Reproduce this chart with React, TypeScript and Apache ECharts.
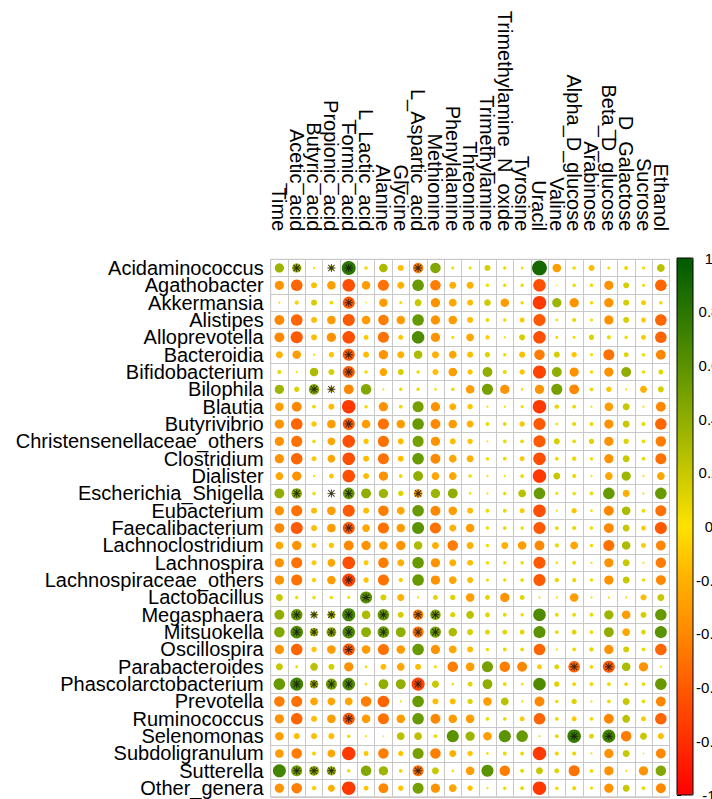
import React, { useEffect, useRef } from "react";
import * as echarts from "echarts";

const metabolites = [
  "Time", "Acetic_acid", "Butyric_acid", "Propionic_acid", "Formic_acid", "L_Lactic_acid",
  "Alanine", "Glycine", "L_Aspartic_acid", "Methionine", "Phenylalanine", "Threonine",
  "Trimethylamine", "Trimethylamine_N_oxide", "Tyrosine", "Uracil", "Valine",
  "Alpha_D_glucose", "Arabinose", "Beta_D_glucose", "D_Galactose", "Sucrose", "Ethanol",
];

const genera = [
  "Acidaminococcus", "Agathobacter", "Akkermansia", "Alistipes", "Alloprevotella", "Bacteroidia",
  "Bifidobacterium", "Bilophila", "Blautia", "Butyrivibrio", "Christensenellaceae_others",
  "Clostridium", "Dialister", "Escherichia_Shigella", "Eubacterium", "Faecalibacterium",
  "Lachnoclostridium", "Lachnospira", "Lachnospiraceae_others", "Lactobacillus", "Megasphaera",
  "Mitsuokella", "Oscillospira", "Parabacteroides", "Phascolarctobacterium", "Prevotella",
  "Ruminococcus", "Selenomonas", "Subdoligranulum", "Sutterella", "Other_genera",
];

// correlation coefficients: one row per genus, one column per metabolite
const corr: number[][] = [
  [0.35, 0.35, 0.02, 0.12, 0.8, 0.05, 0.3, -0.15, -0.45, 0.45, 0.04, 0.04, 0.15, 0.05, 0.03, 0.9, -0.3, 0.05, -0.15, 0.04, 0.07, 0.04, 0.25],
  [-0.35, -0.55, -0.15, -0.3, -0.65, -0.3, -0.5, -0.2, 0.55, -0.45, -0.2, -0.2, 0.05, 0.05, 0.05, -0.65, 0.01, 0.05, 0.05, -0.35, 0.15, 0.04, -0.55],
  [0.02, -0.07, 0.15, 0.06, -0.6, 0.01, -0.3, 0.04, 0.2, -0.35, -0.25, -0.15, 0.18, -0.3, 0.05, -0.75, 0.35, -0.35, 0.05, -0.35, 0.15, -0.1, 0.05],
  [-0.4, -0.55, -0.15, -0.3, -0.6, -0.3, -0.45, -0.3, 0.55, -0.35, -0.3, -0.15, 0.06, 0.05, -0.1, -0.6, 0.03, 0.07, 0.04, -0.35, 0.15, -0.1, -0.55],
  [-0.4, -0.6, -0.15, -0.35, -0.65, -0.1, -0.5, -0.1, 0.65, -0.35, 0.04, -0.25, -0.08, 0.02, 0.15, -0.65, 0.04, 0.04, 0.12, 0.07, 0.05, -0.1, -0.55],
  [-0.2, -0.3, 0.02, -0.12, -0.6, -0.15, -0.35, -0.2, 0.3, -0.2, -0.25, -0.15, 0.12, 0.05, -0.15, -0.45, 0.15, -0.12, 0.04, -0.5, 0.1, 0.05, -0.4],
  [0.07, 0.02, 0.3, 0.15, -0.6, 0.05, -0.25, 0.15, 0.05, -0.15, -0.3, -0.12, 0.4, 0.07, -0.12, -0.7, 0.4, -0.35, 0.05, -0.35, 0.4, 0.05, 0.1],
  [0.35, 0.12, 0.45, 0.12, -0.4, 0.45, 0.02, 0.05, 0.05, 0.03, 0.05, -0.3, 0.5, -0.35, 0.03, -0.35, 0.5, -0.4, 0.06, -0.12, 0.02, -0.2, 0.15],
  [-0.3, -0.4, 0.06, -0.15, -0.75, 0.05, -0.35, 0.06, 0.5, -0.35, -0.2, -0.12, 0.02, 0.02, 0.04, -0.75, 0.08, 0.06, 0.02, -0.3, 0.2, 0.02, -0.4],
  [-0.35, -0.55, -0.12, -0.3, -0.6, -0.3, -0.5, -0.3, 0.55, -0.4, -0.3, -0.2, 0.06, 0.06, -0.12, -0.6, 0.03, 0.07, 0.06, -0.35, 0.2, 0.07, -0.55],
  [-0.35, -0.5, 0.05, -0.25, -0.65, -0.12, -0.5, -0.15, 0.5, -0.35, -0.15, -0.12, 0.02, 0.06, 0.06, -0.6, 0.15, 0.06, 0.12, -0.35, 0.12, 0.06, -0.45],
  [-0.35, -0.55, -0.1, -0.25, -0.65, -0.15, -0.5, -0.15, 0.55, -0.4, -0.25, -0.2, 0.05, 0.06, -0.1, -0.65, 0.06, 0.08, 0.05, -0.35, 0.2, 0.06, -0.5],
  [-0.25, -0.35, 0.02, -0.1, -0.65, -0.15, -0.35, 0.06, 0.4, -0.25, -0.25, 0.05, 0.02, 0.02, 0.06, -0.75, 0.2, 0.07, 0.02, -0.25, 0.35, 0.02, -0.25],
  [0.4, 0.45, 0.05, 0.05, 0.55, 0.4, 0.35, 0.12, -0.3, 0.35, 0.4, 0.03, 0.02, 0.05, 0.25, 0.55, 0.04, 0.05, 0.06, 0.55, -0.2, 0.02, 0.55],
  [-0.35, -0.5, -0.15, -0.3, -0.6, -0.15, -0.45, -0.25, 0.55, -0.4, -0.3, -0.15, 0.06, 0.06, -0.1, -0.65, 0.02, -0.12, 0.03, -0.4, 0.3, 0.06, -0.5],
  [-0.4, -0.6, -0.15, -0.3, -0.6, -0.25, -0.5, -0.3, 0.6, -0.5, -0.2, -0.3, 0.05, 0.06, 0.05, -0.6, 0.06, 0.07, 0.05, -0.4, 0.2, -0.1, -0.6],
  [-0.25, -0.35, -0.1, -0.12, -0.4, -0.35, -0.3, -0.35, 0.3, -0.2, -0.45, -0.2, 0.05, -0.2, -0.3, -0.4, 0.07, -0.25, 0.05, -0.5, 0.3, -0.1, -0.4],
  [-0.35, -0.5, -0.1, -0.25, -0.65, -0.1, -0.45, -0.2, 0.55, -0.35, -0.2, -0.15, 0.05, 0.05, 0.05, -0.6, 0.03, 0.06, 0.02, -0.35, 0.2, 0.02, -0.45],
  [-0.35, -0.5, -0.08, -0.3, -0.7, -0.12, -0.5, -0.08, 0.55, -0.35, -0.25, -0.15, 0.04, 0.05, 0.06, -0.6, 0.08, 0.07, 0.05, -0.35, 0.2, 0.05, -0.4],
  [0.2, 0.05, 0.05, 0.05, 0.04, 0.6, 0.15, -0.2, 0.02, 0.1, 0.12, -0.3, 0.1, -0.35, 0.1, 0.02, 0.02, -0.3, 0.02, 0.02, 0.02, -0.15, 0.2],
  [0.4, 0.55, 0.15, 0.25, 0.7, 0.3, 0.55, 0.15, -0.45, 0.45, 0.12, 0.25, 0.1, 0.06, 0.05, 0.65, 0.06, 0.06, 0.06, 0.35, -0.3, 0.15, 0.55],
  [0.45, 0.65, 0.3, 0.4, 0.65, 0.4, 0.55, 0.4, -0.5, 0.5, 0.3, 0.15, 0.1, 0.1, 0.1, 0.6, 0.06, 0.1, 0.06, 0.4, -0.25, 0.1, 0.6],
  [-0.35, -0.55, -0.12, -0.3, -0.6, -0.3, -0.5, -0.3, 0.55, -0.35, -0.25, -0.15, 0.05, 0.06, 0.06, -0.55, 0.02, 0.06, 0.08, -0.35, 0.15, 0.06, -0.55],
  [0.2, 0.04, 0.25, 0.15, -0.35, 0.03, -0.15, -0.25, -0.15, 0.04, -0.45, -0.3, 0.5, -0.45, -0.4, -0.1, 0.1, -0.55, 0.06, -0.6, 0.3, -0.35, 0.02],
  [0.55, 0.7, 0.3, 0.5, 0.65, 0.03, 0.4, 0.4, -0.7, 0.2, 0.03, 0.1, 0.4, 0.06, 0.03, 0.65, 0.12, 0.06, 0.06, 0.06, 0.06, 0.05, 0.55],
  [-0.45, -0.5, -0.25, -0.25, -0.25, -0.45, -0.55, 0.02, 0.55, -0.15, -0.15, 0.12, -0.3, 0.25, 0.02, -0.4, 0.05, 0.12, 0.02, 0.06, 0.2, 0.06, -0.4],
  [-0.35, -0.55, -0.15, -0.3, -0.6, -0.3, -0.5, -0.3, 0.55, -0.4, -0.3, -0.3, 0.06, 0.06, -0.1, -0.55, 0.06, -0.1, 0.06, -0.4, 0.25, -0.1, -0.55],
  [-0.3, -0.15, -0.15, -0.15, 0.05, 0.02, 0.01, 0.25, 0.25, 0.06, 0.6, 0.35, -0.3, 0.6, 0.55, 0.02, 0.06, 0.75, 0.1, 0.7, -0.45, 0.2, -0.15],
  [-0.3, -0.45, -0.07, -0.25, -0.75, -0.1, -0.45, -0.12, 0.5, -0.45, -0.2, -0.12, 0.03, 0.06, 0.06, -0.75, 0.07, 0.07, 0.02, -0.35, 0.2, 0.01, -0.4],
  [0.7, 0.5, 0.4, 0.35, 0.05, 0.45, 0.35, 0.06, -0.5, 0.2, 0.03, -0.3, 0.6, -0.45, 0.07, 0.2, 0.1, -0.5, 0.06, -0.35, 0.02, -0.35, 0.45],
  [-0.35, -0.45, -0.08, -0.2, -0.75, -0.1, -0.4, -0.12, 0.5, -0.35, -0.25, -0.12, 0.02, 0.05, 0.06, -0.75, 0.05, 0.07, 0.04, -0.35, 0.2, 0.06, -0.4],
];

// significant cells: [genus row, metabolite column]
const significant: [number, number][] = [
  [0, 1], [0, 3], [0, 4], [0, 8],
  [2, 4], [5, 4], [6, 4], [7, 2], [7, 3], [9, 4],
  [13, 1], [13, 3], [13, 4], [13, 8],
  [15, 4], [18, 4], [19, 5],
  [20, 1], [20, 2], [20, 3], [20, 4], [20, 6], [20, 8], [20, 9],
  [21, 1], [21, 2], [21, 3], [21, 4], [21, 6], [21, 8], [21, 9],
  [22, 4], [23, 17], [23, 19],
  [24, 1], [24, 2], [24, 3], [24, 4], [24, 8],
  [26, 4], [27, 17], [27, 19],
  [29, 1], [29, 2], [29, 3], [29, 8],
];

const legendMin = -1;
const legendMax = 1;
const legendStep = 0.2;

const palette = [
  "#FF0000", "#FF2E00", "#FF5A00", "#FF8800", "#FFB000", "#FFE200",
  "#C8C800", "#8FAE00", "#5A9200", "#2B7600", "#005A00",
];

const FONT = "'Liberation Sans', Arial, Helvetica, sans-serif";
const STAR =
  "path://M44,0L56,0L56,100L44,100Z M0,44L100,44L100,56L0,56Z M6,14.5L14.5,6L94,85.5L85.5,94Z M85.5,6L94,14.5L14.5,94L6,85.5Z";

export default function App() {
  const ref = useRef<HTMLDivElement>(null);

  useEffect(() => {
    if (!ref.current) return;
    const chart = echarts.init(ref.current, null, { renderer: "svg" });

    const points: number[][] = [];
    corr.forEach((row, r) => row.forEach((v, c) => points.push([c, r, v])));
    const stars = significant.map(([r, c]) => [c, r]);

    const gridLeft = 270.7;
    const gridTop = 259.3;
    const cell = 17.34;
    const maxDiameter = cell * 0.9;

    chart.setOption({
      animation: false,
      backgroundColor: "#FFFFFF",
      textStyle: { fontFamily: FONT },
      grid: [
        {
          left: gridLeft,
          top: gridTop,
          width: cell * metabolites.length,
          height: cell * genera.length,
          show: true,
          borderColor: "#C8C8C8",
          borderWidth: 1,
          backgroundColor: "transparent",
        },
        { left: 677, top: 258, width: 16, height: 537 },
      ],
      xAxis: [
        {
          gridIndex: 0,
          type: "category",
          data: metabolites,
          position: "top",
          boundaryGap: true,
          axisLine: { show: false },
          axisTick: { show: false },
          axisLabel: {
            interval: 0,
            rotate: 90,
            fontSize: 20,
            color: "#000",
            fontFamily: FONT,
            margin: 28,
          },
          splitLine: { show: true, interval: 0, lineStyle: { color: "#C8C8C8", width: 1 } },
        },
        { gridIndex: 1, type: "value", show: false, min: 0, max: 1 },
      ],
      yAxis: [
        {
          gridIndex: 0,
          type: "category",
          data: genera,
          inverse: true,
          axisLine: { show: false },
          axisTick: { show: false },
          axisLabel: { interval: 0, fontSize: 20, color: "#000", fontFamily: FONT, margin: 7 },
          splitLine: { show: true, interval: 0, lineStyle: { color: "#C8C8C8", width: 1 } },
        },
        {
          gridIndex: 1,
          type: "value",
          min: legendMin,
          max: legendMax,
          interval: legendStep,
          position: "right",
          axisLine: { show: false },
          axisTick: { show: true, length: 4, lineStyle: { color: "#000", width: 1 } },
          splitLine: { show: false },
          axisLabel: {
            fontSize: 15,
            color: "#000",
            fontFamily: FONT,
            margin: 16,
            align: "center",
            formatter: (v: number) => {
              const r = Math.round(v * 10) / 10;
              return r === 0 ? "0" : String(r);
            },
          },
        },
      ],
      visualMap: {
        type: "continuous",
        min: legendMin,
        max: legendMax,
        dimension: 2,
        seriesIndex: 0,
        calculable: false,
        hoverLink: false,
        orient: "vertical",
        left: 677,
        top: 258,
        itemWidth: 16,
        itemHeight: 537,
        padding: 0,
        inRange: { color: palette },
      },
      graphic: [
        {
          type: "rect",
          shape: { x: 677, y: 258, width: 16, height: 537 },
          style: { fill: "none", stroke: "#000", lineWidth: 1 },
          z: 100,
          silent: true,
        },
      ],
      series: [
        {
          type: "scatter",
          xAxisIndex: 0,
          yAxisIndex: 0,
          data: points,
          symbol: "circle",
          symbolSize: (v: number[]) => maxDiameter * Math.sqrt(Math.abs(v[2])),
          itemStyle: { opacity: 1 },
          emphasis: { disabled: true },
          silent: true,
          z: 2,
        },
        {
          type: "scatter",
          xAxisIndex: 0,
          yAxisIndex: 0,
          data: stars,
          symbol: STAR,
          symbolSize: 8,
          itemStyle: { color: "#111111" },
          emphasis: { disabled: true },
          silent: true,
          z: 3,
        },
      ],
    });

    return () => chart.dispose();
  }, []);

  return (
    <div
      style={{
        position: "absolute",
        left: 0,
        top: 0,
        width: 712,
        height: 799,
        overflow: "hidden",
        background: "#FFFFFF",
      }}
    >
      <div ref={ref} style={{ width: 760, height: 830 }} />
    </div>
  );
}
